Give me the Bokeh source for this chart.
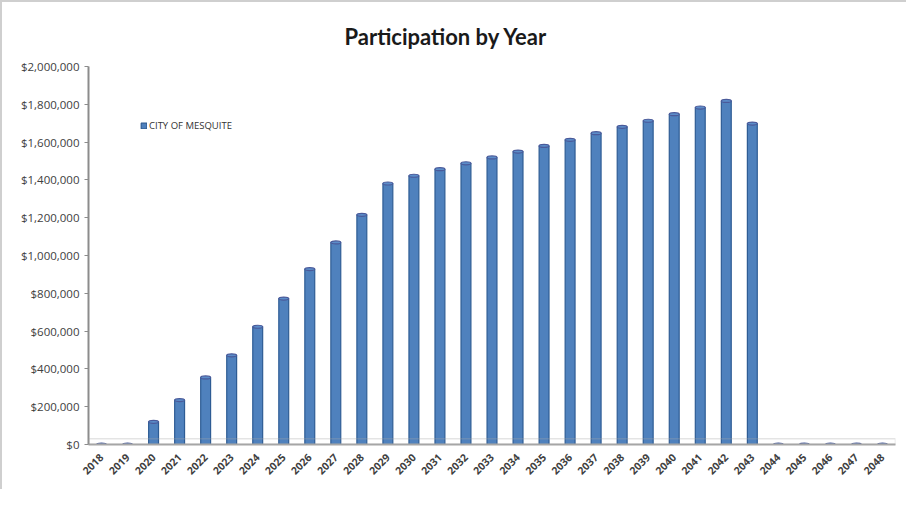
import math
from bokeh.plotting import figure
from bokeh.models import FactorRange, Range1d, FixedTicker, NumeralTickFormatter, BoxAnnotation
from bokeh.embed import file_html
from bokeh.resources import INLINE

years = ["2018", "2019", "2020", "2021", "2022", "2023", "2024", "2025", "2026", "2027",
         "2028", "2029", "2030", "2031", "2032", "2033", "2034", "2035", "2036", "2037",
         "2038", "2039", "2040", "2041", "2042", "2043", "2044", "2045", "2046", "2047", "2048"]
participation = [0, 0, 120000, 235000, 355000, 472000, 623000, 772000, 928000, 1069000,
                 1215000, 1381000, 1422000, 1457000, 1488000, 1519000, 1550000, 1580000, 1612000, 1647000,
                 1681000, 1713000, 1748000, 1783000, 1818000, 1698000, 0, 0, 0, 0, 0]
y_ticks = [0, 200000, 400000, 600000, 800000, 1000000, 1200000, 1400000, 1600000, 1800000, 2000000]
series_name = "CITY OF MESQUITE"

p = figure(width=906, height=489, x_range=FactorRange(*years, range_padding=0),
           y_range=Range1d(0, 2000000), output_backend="svg", toolbar_location=None,
           title="Participation by Year",
           min_border_left=86, min_border_right=13, min_border_top=64, min_border_bottom=47)
p.styles = {"border-top": "2px solid #cfcfcf", "border-left": "2px solid #cfcfcf"}

p.title.text_font = "Lato"
p.title.text_font_size = "22px"
p.title.text_font_style = "bold"
p.title.text_color = "#1a1a1a"
p.title.align = "left"
p.title.offset = 256
p.title.standoff = 34

floor = BoxAnnotation(bottom=0, top=30000, fill_alpha=0, line_color="#a6a6a6", line_width=1.5)
p.add_layout(floor)

p.vbar(x=years, top=participation, width=0.38, fill_color="#4f81bd", line_color="#2e5c94",
       line_width=1.2, legend_label=series_name)
p.ellipse(x=years, y=participation, width=0.38, height=16000, fill_color="#5b8dc9",
          line_color="#4a5a9a", line_width=1.2)

p.xgrid.visible = False
p.ygrid.visible = False
p.outline_line_color = None

p.yaxis.ticker = FixedTicker(ticks=y_ticks)
p.yaxis.formatter = NumeralTickFormatter(format="$0,0")
p.yaxis.axis_line_color = "#8c8c8c"
p.yaxis.axis_line_width = 2
p.yaxis.major_tick_line_color = "#8c8c8c"
p.yaxis.major_tick_out = 4
p.yaxis.major_tick_in = 0
p.yaxis.minor_tick_line_color = None
p.yaxis.major_label_text_font = "Open Sans"
p.yaxis.major_label_text_font_size = "11.5px"
p.yaxis.major_label_text_color = "#404040"
p.yaxis.major_label_standoff = 5

p.xaxis.axis_line_color = "#a6a6a6"
p.xaxis.axis_line_width = 2
p.xaxis.major_tick_line_color = None
p.xaxis.major_label_orientation = math.pi / 4
p.xaxis.major_label_text_font = "Open Sans"
p.xaxis.major_label_text_font_size = "10.5px"
p.xaxis.major_label_text_font_style = "bold"
p.xaxis.major_label_text_color = "#404040"
p.xaxis.major_label_standoff = 5

p.legend.location = (52, 312)
p.legend.background_fill_alpha = 0
p.legend.border_line_color = None
p.legend.label_text_font = "Open Sans"
p.legend.label_text_font_size = "9.5px"
p.legend.label_text_color = "#333333"
p.legend.glyph_width = 7
p.legend.glyph_height = 7
p.legend.label_standoff = 2
p.legend.padding = 2
p.legend.spacing = 0

open("out.html", "w").write(file_html(p, INLINE))
